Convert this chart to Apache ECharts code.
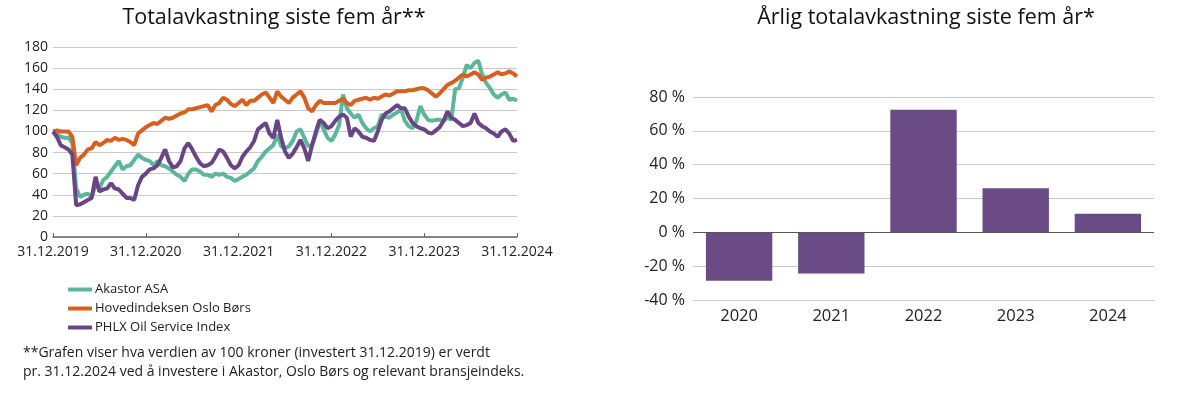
<!DOCTYPE html>
<html>
<head>
<meta charset="utf-8">
<script src="https://cdn.jsdelivr.net/npm/echarts@6/dist/echarts.min.js"></script>
<style>
  html, body { margin: 0; padding: 0; background: #fff; }
  #main { width: 1200px; height: 396px; }
</style>
</head>
<body>
<div id="main"></div>
<script>
// half-monthly points, 31.12.2019 -> 31.12.2024
var tickLabels = ['31.12.2019', '31.12.2020', '31.12.2021', '31.12.2022', '31.12.2023', '31.12.2024'];

var akastor = [100, 98, 95, 94, 94, 89, 46, 38, 40, 41, 38, 49, 46, 54, 57, 62, 67, 72, 64, 67, 68, 73, 78, 75, 73,
  72, 68, 72, 68, 67, 65, 62, 59, 57, 53, 60, 64, 64, 62, 59, 59, 57, 60, 59, 60, 57, 56, 53, 55, 57,
  59, 62, 65, 72, 76, 81, 84, 87, 97, 86, 84, 86, 91, 100, 102, 94, 86, 87, 97, 110, 102, 94, 91, 97, 106,
  135, 122, 117, 113, 116, 108, 103, 100, 103, 105, 116, 114, 113, 116, 118, 121, 110, 105, 103, 110, 124, 116, 111, 110, 111,
  111, 110, 113, 111, 140, 141, 151, 163, 160, 165, 167, 154, 146, 141, 135, 132, 135, 137, 130, 131, 129];

var osloBors = [100, 101, 100, 100, 100, 95, 68, 75, 78, 83, 84, 90, 87, 89, 92, 91, 94, 92, 93, 92, 90, 87, 98, 101, 104,
  106, 108, 107, 110, 113, 112, 113, 115, 117, 118, 121, 121, 122, 123, 124, 125, 119, 125, 127, 132, 130, 126, 124, 127, 130,
  125, 129, 129, 132, 135, 137, 132, 127, 138, 133, 130, 127, 132, 135, 138, 132, 122, 119, 125, 129, 127, 127, 127, 127, 129,
  131, 127, 125, 129, 130, 131, 132, 130, 132, 131, 133, 135, 134, 136, 138, 138, 138, 139, 139, 140, 141, 141, 139, 136, 133,
  136, 140, 144, 146, 148, 151, 154, 152, 154, 156, 154, 149, 151, 152, 154, 156, 154, 155, 157, 155, 152];

var phlx = [100, 95, 87, 85, 83, 78, 30, 31, 33, 35, 37, 57, 43, 45, 46, 51, 46, 45, 41, 37, 37, 35, 49, 57, 60,
  64, 65, 68, 75, 83, 72, 66, 67, 72, 84, 89, 83, 76, 70, 67, 68, 70, 76, 83, 81, 75, 68, 65, 68, 76,
  81, 85, 91, 102, 105, 108, 98, 94, 111, 94, 81, 75, 79, 85, 92, 84, 72, 87, 100, 111, 108, 103, 105, 110, 114,
  116, 113, 95, 103, 100, 95, 94, 92, 91, 100, 111, 117, 119, 122, 125, 122, 122, 114, 108, 105, 103, 102, 99, 98, 101,
  104, 110, 119, 113, 111, 108, 105, 106, 108, 117, 108, 105, 103, 100, 98, 95, 100, 102, 98, 91, 92];

var years = ['2020', '2021', '2022', '2023', '2024'];
var annualReturn = [-28.6, -24.3, 72.5, 26, 11];

var seriesNames = ['Akastor ASA', 'Hovedindeksen Oslo Børs', 'PHLX Oil Service Index'];
var lineColors = ['#5cb69a', '#d6601f', '#6a4585'];

// one category per half month, only every 24th gets a label
var dates = [];
for (var i = 0; i < akastor.length; i++) {
    dates.push(i % 24 === 0 ? tickLabels[i / 24] : '');
}

var font = "'Open Sans', 'Noto Sans', sans-serif";
var chart = echarts.init(document.getElementById('main'));

function lineSeries(idx, data) {
    return {
        name: seriesNames[idx],
        type: 'line',
        xAxisIndex: 0,
        yAxisIndex: 0,
        data: data,
        symbol: 'none',
        smooth: false,
        lineStyle: { width: 4, color: lineColors[idx] },
        itemStyle: { color: lineColors[idx] }
    };
}

var option = {
    animation: false,
    textStyle: { fontFamily: font },
    title: [
        {
            text: 'Totalavkastning siste fem år**',
            left: 269, top: 2, textAlign: 'center',
            textStyle: { fontFamily: font, fontSize: 21.5, fontWeight: 'normal', color: '#111' }
        },
        {
            text: 'Årlig totalavkastning siste fem år*',
            left: 921, top: 2, textAlign: 'center',
            textStyle: { fontFamily: font, fontSize: 21.5, fontWeight: 'normal', color: '#111' }
        }
    ],
    legend: {
        orient: 'vertical',
        left: 63, top: 278,
        itemWidth: 24, itemHeight: 4, itemGap: 6,
        icon: 'rect',
        data: seriesNames,
        textStyle: { fontFamily: font, fontSize: 13, color: '#222', padding: [0, 0, 0, -2] }
    },
    grid: [
        { left: 53, right: 683, top: 47, bottom: 159 },
        { left: 693, right: 46, top: 97, bottom: 96 }
    ],
    xAxis: [
        {
            type: 'category', gridIndex: 0, data: dates, boundaryGap: false,
            axisLine: { lineStyle: { color: '#666', width: 1.5 } },
            axisTick: { inside: true, length: 4, interval: 23, lineStyle: { color: '#666' } },
            axisLabel: { interval: 23, fontFamily: font, fontSize: 14, color: '#222', margin: 8 }
        },
        {
            type: 'category', gridIndex: 1, data: years,
            axisLine: { show: false },
            axisTick: { show: false },
            axisLabel: { fontFamily: font, fontSize: 16.5, color: '#222', margin: 8 }
        }
    ],
    yAxis: [
        {
            type: 'value', gridIndex: 0, min: 0, max: 180, interval: 20,
            axisLine: { show: false }, axisTick: { show: false },
            splitLine: { lineStyle: { color: '#c8c8c8', width: 1 } },
            axisLabel: { fontFamily: font, fontSize: 14, color: '#222', margin: 5 }
        },
        {
            type: 'value', gridIndex: 1, min: -40, max: 80, interval: 20,
            axisLine: { show: false }, axisTick: { show: false },
            splitLine: { lineStyle: { color: '#c8c8c8', width: 1 } },
            axisLabel: { fontFamily: font, fontSize: 16, color: '#222', margin: 8, formatter: '{value} %' }
        }
    ],
    series: [
        lineSeries(0, akastor),
        lineSeries(1, osloBors),
        lineSeries(2, phlx),
        {
            name: 'Årlig totalavkastning',
            type: 'bar',
            xAxisIndex: 1,
            yAxisIndex: 1,
            data: annualReturn,
            barCategoryGap: '28%',
            itemStyle: { color: '#6b4b86' },
            markLine: {
                silent: true, symbol: 'none', label: { show: false },
                lineStyle: { color: '#555', width: 1.2, type: 'solid' },
                data: [{ yAxis: 0 }]
            }
        }
    ],
    graphic: [
        {
            type: 'text', left: 23, top: 344,
            style: {
                text: '**Grafen viser hva verdien av 100 kroner (investert 31.12.2019) er verdt\npr. 31.12.2024 ved å investere i Akastor, Oslo Børs og relevant bransjeindeks.',
                font: '14px ' + font, fill: '#222', lineHeight: 19
            }
        }
    ]
};

chart.setOption(option);
</script>
</body>
</html>
